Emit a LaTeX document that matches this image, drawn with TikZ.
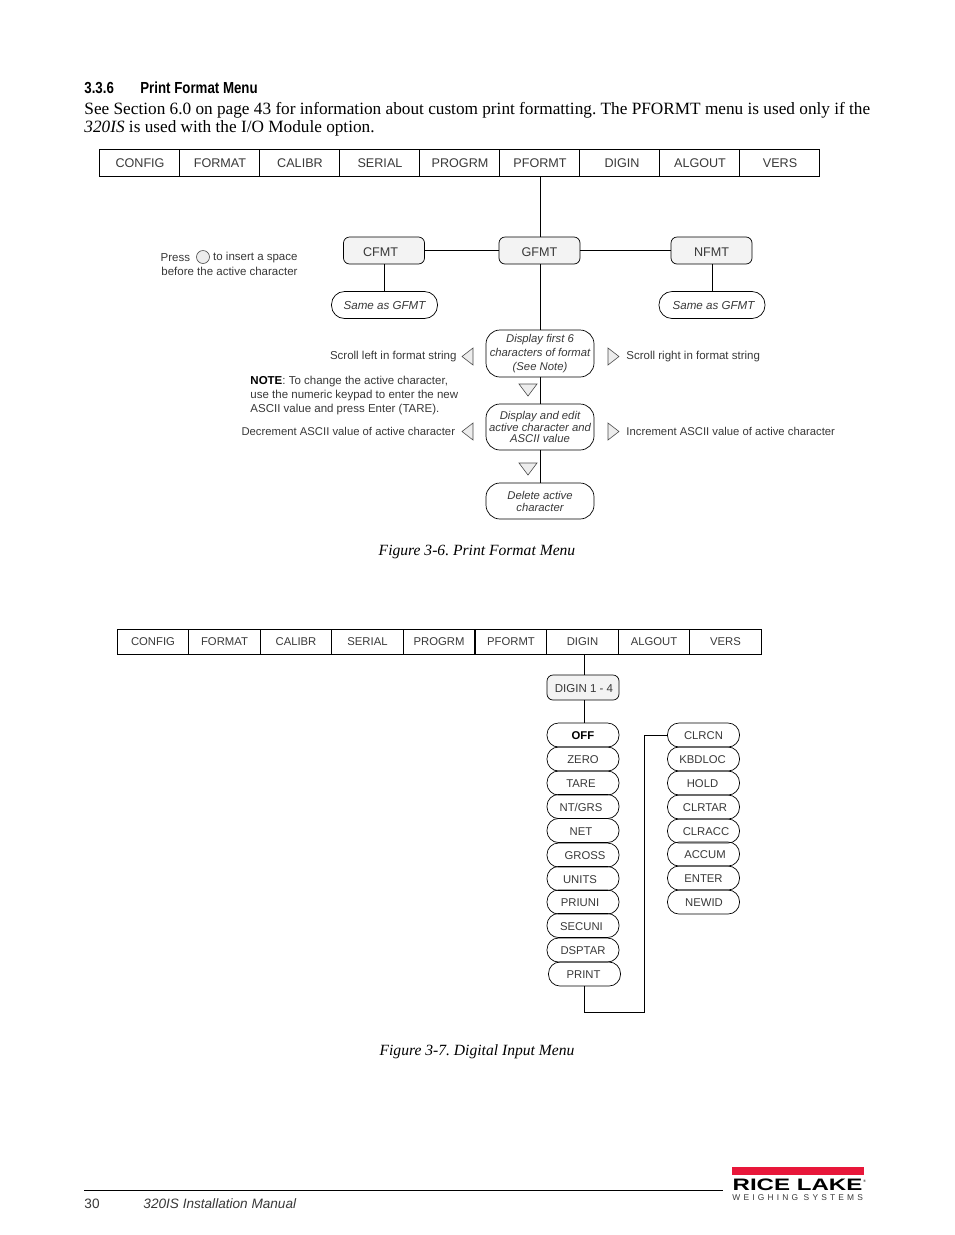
\documentclass[tikz,border=0pt]{standalone}
\usepackage{fontspec}
\setmainfont{Liberation Serif}
\setsansfont{Liberation Sans}
\usepackage{xcolor}
\definecolor{ricered}{HTML}{E8173A}
\definecolor{keyfill}{HTML}{F3F3F3}
\colorlet{lighttext}{black!78}

\tikzset{
  body/.style={anchor=base west, inner sep=0, font=\rmfamily\frenchspacing\fontsize{17.24}{20}\selectfont},
  caption/.style={inner sep=0, font=\rmfamily\itshape\frenchspacing\fontsize{15.6}{19}\selectfont},
  note/.style={inner sep=0, text=lighttext, font=\sffamily\fontsize{11.5}{14}\selectfont},
  tab/.style={draw, inner sep=0, outer sep=0, minimum height=27pt, minimum width=80pt, text height=10.9pt, text=lighttext, font=\sffamily\fontsize{12.6}{14}\selectfont},
  tabtop/.style={tab, execute at begin node={\kern2pt}},
  tabsmall/.style={tab, minimum height=25pt, minimum width=71.6pt, text height=8.8pt, font=\sffamily\fontsize{11.3}{14}\selectfont},
  key/.style={draw, fill=keyfill, line width=0.7pt, inner sep=0, outer sep=0, rounded corners=6pt, minimum width=81pt, minimum height=27pt, text height=12pt, text=lighttext, font=\sffamily\fontsize{12.6}{14}\selectfont},
  same/.style={draw, line width=0.7pt, inner sep=0, outer sep=0, rounded corners=13pt, minimum width=106pt, minimum height=27pt, text=lighttext, font=\sffamily\itshape\fontsize{11.6}{14}\selectfont},
  param/.style={draw, line width=0.7pt, inner sep=0, outer sep=0, rounded corners=14pt, minimum width=108pt, align=center, text=lighttext, font=\sffamily\itshape\fontsize{11.3}{14.3}\selectfont},
  pill/.style={draw, line width=0.7pt, inner sep=0, outer sep=0, rounded corners=11.5pt, minimum width=72pt, minimum height=24pt, text height=9.6pt, text=lighttext, font=\sffamily\fontsize{11.3}{14}\selectfont},
  tri/.style={draw=black!70, fill=black!7, line width=0.6pt},
  link/.style={line width=0.9pt},
}

\begin{document}
\begin{tikzpicture}[x=1pt,y=-1pt,line width=0.9pt]
\useasboundingbox (0,0) rectangle (954,1235);

% page text
\node[anchor=base west, inner sep=0, xscale=0.83, font=\sffamily\bfseries\fontsize{16}{18}\selectfont] (secnum) at (84,93) {3.3.6};
\node[anchor=base west, inner sep=0, xscale=0.83, font=\sffamily\bfseries\fontsize{16}{18}\selectfont] (sectitle) at (140,93) {Print Format Menu};
\node[body] (intro1) at (84,114) {See Section 6.0 on page 43 for information about custom print formatting. The PFORMT menu is used only if the};
\node[body] (intro2) at (84,132) {\textit{320IS} is used with the I/O Module option.};

% first menu bar
\node[tabtop] (config) at (139,162.5) {CONFIG};
\node[tabtop] (format) at (219,162.5) {FORMAT};
\node[tabtop] (calibr) at (299,162.5) {CALIBR};
\node[tabtop] (serial) at (379,162.5) {SERIAL};
\node[tabtop] (progrm) at (459,162.5) {PROGRM};
\node[tabtop] (pformt) at (539,162.5) {PFORMT};
\node[tabtop] (digin) at (619,162.5) {\kern4pt DIGIN};
\node[tabtop] (algout) at (699,162.5) {ALGOUT};
\node[tabtop] (vers) at (779,162.5) {VERS};

% print format keys
\node[key] (cfmt) at (384,250.5) {\kern-7pt CFMT};
\node[key] (gfmt) at (539.5,250.5) {GFMT};
\node[key] (nfmt) at (711.5,250.5) {NFMT};
\node[same] (cfmtsame) at (384.5,305) {Same as GFMT};
\node[same] (nfmtsame) at (712,305) {\kern3pt Same as GFMT};
\node[param, minimum height=47pt] (first) at (540,353.5) {Display first 6\\characters of format\\(See Note)};
\node[param, minimum height=46pt, font=\sffamily\itshape\fontsize{11.3}{11.7}\selectfont] (edit) at (540,427) {Display and edit\\active character and\\ASCII value};
\node[param, minimum height=36pt, font=\sffamily\itshape\fontsize{11.3}{12}\selectfont] (delete) at (540,501) {Delete active\\character};

\draw[link] (gfmt.north -| first) -- (pformt.south -| first);
\draw[link] (cfmt) -- (gfmt);
\draw[link] (gfmt) -- (nfmt);
\draw[link] (cfmt.south -| cfmtsame) -- (cfmtsame);
\draw[link] (nfmt.south -| nfmtsame) -- (nfmtsame);
\draw[link] (gfmt.south -| first) -- (first);
\draw[link] (first) -- (edit);
\draw[link] (edit) -- (delete);

% arrow keys
\draw[tri] (519,384) -- (537,384) -- (528,396) -- cycle;
\draw[tri] (519,463) -- (537,463) -- (528,475) -- cycle;
\draw[tri] (473,348) -- (473,365) -- (462,356.5) -- cycle;
\draw[tri] (473,423) -- (473,440) -- (462,431.5) -- cycle;
\draw[tri] (608,348) -- (608,365) -- (619,356.5) -- cycle;
\draw[tri] (608,423) -- (608,440) -- (619,431.5) -- cycle;

% side notes
\node[note, anchor=east] (press) at (190.5,258) {Press};
\draw[tri] (203,257) circle [radius=6.5];
\node[note, anchor=east] (insert) at (298,258) {to insert a space};
\node[note, anchor=east] (before) at (298,271.5) {before the active character};
\node[note, anchor=east] (scrollleft) at (457,357) {Scroll left in format string};
\node[note, anchor=west] (scrollright) at (626,357) {Scroll right in format string};
\node[note, anchor=north west, align=left] (notetext) at (250,375.5) {\textcolor{black}{\textbf{NOTE}}: To change the active character,\\use the numeric keypad to enter the new\\ASCII value and press Enter (TARE).};
\node[note, anchor=east, font=\sffamily\fontsize{11.3}{14}\selectfont] (decr) at (455.5,431) {Decrement ASCII value of active character};
\node[note, anchor=west, font=\sffamily\fontsize{11.3}{14}\selectfont] (incr) at (626,431) {Increment ASCII value of active character};

\node[caption] (fig6) at (477,551.5) {Figure 3-6. Print Format Menu};

% second menu bar
\node[tabsmall] (config2) at (153,641.5) {CONFIG};
\node[tabsmall] (format2) at (224.5,641.5) {FORMAT};
\node[tabsmall] (calibr2) at (296,641.5) {CALIBR};
\node[tabsmall] (serial2) at (367.5,641.5) {SERIAL};
\node[tabsmall] (progrm2) at (439,641.5) {PROGRM};
\node[tabsmall] (pformt2) at (511,641.5) {PFORMT};
\node[tabsmall] (digin2) at (582.5,641.5) {DIGIN};
\node[tabsmall] (algout2) at (654,641.5) {ALGOUT};
\node[tabsmall] (vers2) at (725.5,641.5) {VERS};

% digital input functions
\node[key, minimum width=72pt, minimum height=25pt, text height=10.6pt, font=\sffamily\fontsize{11.5}{14}\selectfont] (digin14) at (583,687.5) {\kern2pt DIGIN 1 - 4};
\node[pill] (off) at (583,735) {\textcolor{black}{\textbf{OFF}}};
\node[pill] (zero) at (583,759) {ZERO};
\node[pill] (tare) at (583,783) {\kern-4pt TARE};
\node[pill] (ntgrs) at (583,806.5) {\kern-4pt NT/GRS};
\node[pill] (net) at (583,830.5) {\kern-4pt NET};
\node[pill] (gross) at (583,855) {\kern4pt GROSS};
\node[pill] (units) at (583,878.5) {\kern-6pt UNITS};
\node[pill] (priuni) at (583,902) {\kern-6pt PRIUNI};
\node[pill] (secuni) at (583,925.5) {\kern-3pt SECUNI};
\node[pill] (dsptar) at (583,950) {DSPTAR};
\node[pill] (print) at (584.5,974) {\kern-2pt PRINT};

\node[pill] (clrcn) at (703.5,735) {CLRCN};
\node[pill] (kbdloc) at (703.5,759) {\kern-2pt KBDLOC};
\node[pill] (hold) at (703.5,783) {\kern-2pt HOLD};
\node[pill] (clrtar) at (703.5,807) {\kern3pt CLRTAR};
\node[pill] (clracc) at (703.5,831) {\kern5pt CLRACC};
\node[pill] (accum) at (703.5,854) {\kern3pt ACCUM};
\node[pill] (enter) at (703.5,878) {ENTER};
\node[pill] (newid) at (703.5,902) {\kern1pt NEWID};

\coordinate (turn) at (644,1012);
\draw[link] (digin2.south -| print) -- (digin14.north -| print);
\draw[link] (digin14.south -| print) -- (off.north -| print);
\draw[link] (print.south) |- (turn) |- (clrcn.west);

\node[caption] (fig7) at (477,1051.5) {Figure 3-7. Digital Input Menu};

% footer
\coordinate (rulestart) at (84,1190);
\coordinate (ruleend) at (723,1190);
\draw[link] (rulestart) -- (ruleend);
\node[anchor=base west, inner sep=0, text=lighttext, font=\sffamily\fontsize{13.6}{16}\selectfont] (pagenum) at (84,1208) {30};
\node[anchor=base west, inner sep=0, text=lighttext, font=\sffamily\itshape\fontsize{13.6}{16}\selectfont] (manual) at (143,1208) {320IS Installation Manual};

% logo
\fill[ricered] (732,1167) rectangle (864,1175);
\node[anchor=base west, inner sep=0, xscale=1.45, font=\sffamily\bfseries\fontsize{16.6}{18}\selectfont] (rice) at (732,1190) {RICE LAKE};
\node[anchor=base west, inner sep=0, font=\sffamily\fontsize{3.5}{4}\selectfont] (reg) at (863,1182) {®};
\node[anchor=base west, inner sep=0, text=lighttext, font=\sffamily\fontsize{8.4}{10}\selectfont\addfontfeatures{LetterSpace=38}] (weighing) at (732,1200) {WEIGHING SYSTEMS};
\end{tikzpicture}
\end{document}
